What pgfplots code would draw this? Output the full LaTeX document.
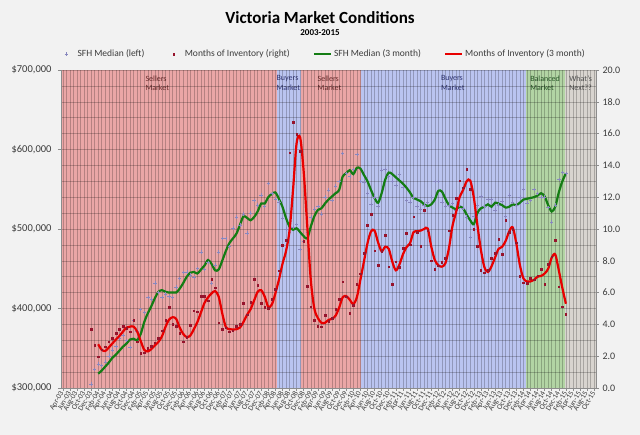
\documentclass[border=0pt]{standalone}
\usepackage{pgfplots}
\pgfplotsset{compat=1.18}
\usepackage{pgfplotstable}
\usepackage{fontspec}
\setmainfont{Carlito}
\definecolor{bg}{RGB}{242,242,242}
\definecolor{bandred}{RGB}{234,166,166}
\definecolor{bandblue}{RGB}{186,196,240}
\definecolor{bandgreen}{RGB}{178,212,164}
\definecolor{bandgray}{RGB}{216,212,207}
\definecolor{txtred}{RGB}{110,45,45}
\definecolor{txtblue}{RGB}{50,55,120}
\definecolor{txtgreen}{RGB}{40,90,40}
\definecolor{txtgray}{RGB}{85,85,85}
\definecolor{sfhline}{RGB}{20,125,20}
\definecolor{moiline}{RGB}{232,0,0}
\definecolor{sfhpt}{RGB}{135,135,190}
\definecolor{moipt}{RGB}{150,20,45}
\definecolor{lbl}{RGB}{60,60,60}
\pgfplotsset{markleg/.style={legend image code/.code={\path (0pt,-1pt) (15pt,1pt); \draw[##1] plot coordinates {(6pt,0pt)};}}}

\pgfplotstableread{
i sfh moi sfh3 moi3
8 305 3.69 nan nan
9 323 2.70 nan nan
10 330 1.97 318 2.75
11 328 2.40 322 2.40
12 333 2.60 327 2.33
13 340 2.91 332 2.55
14 348 3.12 338 2.80
15 352 3.44 342 3.05
16 362 3.69 347 3.28
17 366 3.90 352 3.55
18 360 3.75 356 3.80
19 351 3.54 361 3.86
20 385 4.28 362 3.86
21 372 2.90 360 3.55
22 399 2.18 368 2.95
23 395 2.22 383 2.40
24 414 2.50 394 2.30
25 412 2.64 403 2.45
26 432 2.85 413 2.68
27 420 3.12 421 2.90
28 414 3.60 423 3.25
29 418 4.28 421 3.85
30 415 5.08 420 4.30
31 414 4.00 420 4.45
32 427 3.90 420 4.35
33 438 3.45 425 3.80
34 445 2.91 432 3.40
35 446 3.20 440 3.20
36 442 3.96 445 3.30
37 439 4.86 446 3.70
38 450 4.80 444 4.15
39 471 5.79 449 4.75
40 449 5.79 454 5.35
41 458 5.49 461 5.70
42 432 6.84 456 5.95
43 455 6.30 448 6.10
44 471 4.11 449 5.75
45 488 3.69 460 4.70
46 488 3.80 472 3.85
47 478 3.54 482 3.70
48 501 3.60 488 3.68
49 515 3.90 494 3.69
50 505 4.00 505 3.80
51 519 5.33 516 4.15
52 495 4.60 514 4.60
53 520 5.40 511 4.95
54 536 6.84 515 5.50
55 530 6.48 522 6.05
56 543 5.33 532 6.15
57 528 5.08 532 5.75
58 557 5.01 540 5.10
59 545 5.58 544 5.25
60 538 6.21 546 5.95
61 534 7.38 538 6.80
62 513 8.99 528 7.80
63 500 9.31 514 8.60
64 496 14.80 503 9.90
65 502 16.70 499 12.50
66 506 15.97 501 15.40
67 474 14.90 496 15.75
68 484 9.25 491 13.60
69 496 6.42 488 10.20
70 515 5.11 503 6.80
71 525 4.28 516 5.00
72 528 3.90 524 4.40
73 519 3.86 526 4.10
74 540 4.59 532 4.10
75 549 4.20 537 4.28
76 536 4.38 541 4.35
77 554 4.95 545 4.55
78 560 5.58 549 5.05
79 595 6.69 566 5.70
80 570 5.74 570 5.78
81 566 4.70 574 5.55
82 575 5.22 569 5.28
83 594 6.54 577 5.70
84 560 7.20 576 6.80
85 559 8.47 568 7.95
86 545 10.25 560 9.10
87 531 10.94 549 9.85
88 540 8.64 539 9.90
89 529 7.74 533 9.15
90 574 8.60 545 8.60
91 575 9.62 562 8.88
92 566 7.63 571 8.75
93 560 6.54 569 7.95
94 555 7.94 565 7.40
95 569 7.60 561 7.75
96 552 8.80 557 8.40
97 536 9.73 552 8.85
98 534 9.00 546 9.10
99 540 10.77 539 9.80
100 528 9.80 537 9.85
101 525 8.93 535 9.90
102 530 11.19 531 10.00
103 534 9.90 529 10.03
104 540 8.00 531 8.90
105 560 7.46 537 8.05
106 560 7.70 548 7.72
107 534 7.90 547 7.63
108 528 8.16 538 7.85
109 530 9.89 530 8.80
110 532 10.88 527 10.20
111 524 11.93 525 11.05
112 530 13.04 528 12.00
113 526 12.60 526 12.45
114 515 13.75 518 13.00
115 489 12.50 511 13.05
116 516 10.00 506 12.00
117 530 8.93 520 10.30
118 541 7.42 526 8.70
119 528 7.25 528 7.60
120 537 7.40 531 7.30
121 537 8.16 528 7.65
122 524 8.47 533 8.20
123 530 9.35 532 8.75
124 535 8.43 530 8.88
125 516 10.57 527 9.25
126 543 9.80 528 9.85
127 534 10.00 531 10.10
128 530 9.14 530 9.10
129 540 7.04 533 7.75
130 550 6.62 537 6.90
131 533 6.58 538 6.70
132 536 6.90 539 6.70
133 550 6.80 540 6.80
134 545 7.06 542 7.00
135 540 7.46 545 7.05
136 540 6.54 541 7.20
137 527 7.80 530 7.50
138 509 8.26 522 8.20
139 530 9.31 528 8.40
140 562 6.37 546 7.40
141 571 5.11 560 6.30
142 570 4.65 570 5.30
}\datatable

\begin{document}
\begin{tikzpicture}
\useasboundingbox (0,0) rectangle (640pt,435pt);
\fill[bg] (0,0) rectangle (640pt,435pt);
\node[font=\fontsize{17}{20}\selectfont\bfseries] at (320pt,417pt) {Victoria Market Conditions};
\node[font=\fontsize{9}{11}\selectfont\bfseries] at (320pt,402pt) {2003-2015};

% background bands
\begin{axis}[at={(61pt,47pt)}, anchor=south west, width=535pt, height=318pt, scale only axis,
  xmin=-0.5, xmax=150.5, ymin=300, ymax=700, hide axis, clip=true]
\addplot[fill=bandred, draw=none] coordinates {(-0.5,300) (60.6,300) (60.6,700) (-0.5,700)} -- cycle;
\addplot[fill=bandblue, draw=none] coordinates {(60.6,300) (67.1,300) (67.1,700) (60.6,700)} -- cycle;
\addplot[fill=bandred, draw=none] coordinates {(67.1,300) (84.1,300) (84.1,700) (67.1,700)} -- cycle;
\addplot[fill=bandblue, draw=none] coordinates {(84.1,300) (130.7,300) (130.7,700) (84.1,700)} -- cycle;
\addplot[fill=bandgreen, draw=none] coordinates {(130.7,300) (141.75,300) (141.75,700) (130.7,700)} -- cycle;
\addplot[fill=bandgray, draw=none] coordinates {(141.75,300) (150.5,300) (150.5,700) (141.75,700)} -- cycle;
\begin{scope}[font=\fontsize{8}{9.5}\selectfont]
\node[anchor=north west, align=left, text=txtred, inner sep=0pt] at (axis cs:23.3,693) {Sellers\\Market};
\node[anchor=north west, align=left, text=txtblue, inner sep=0pt] at (axis cs:60.3,693) {Buyers\\Market};
\node[anchor=north west, align=left, text=txtred, inner sep=0pt] at (axis cs:71.9,693) {Sellers\\Market};
\node[anchor=north west, align=left, text=txtblue, inner sep=0pt] at (axis cs:106.7,693) {Buyers\\Market};
\node[anchor=north west, align=left, text=txtgreen, inner sep=0pt] at (axis cs:131.9,693) {Balanced\\Market};
\node[anchor=north west, align=left, text=txtgray, inner sep=0pt] at (axis cs:142.9,693) {What's\\Next??};
\end{scope}
\end{axis}

% left axis + SFH
\begin{axis}[at={(61pt,47pt)}, anchor=south west, width=535pt, height=318pt, scale only axis,
  xmin=-0.5, xmax=150.5, ymin=300, ymax=700,
  axis x line*=bottom, axis y line*=left,
  axis line style={draw=black!45, line width=0.5pt},
  tick style={draw=black!45, line width=0.5pt},
  tick align=outside, major tick length=3pt, minor tick length=0pt,
  ytick={300,400,500,600,700},
  yticklabels={{\$300,000},{\$400,000},{\$500,000},{\$600,000},{\$700,000}},
  minor y tick num=4,
  xtick={0,2,...,150},
  minor x tick num=1,
  xticklabels={Apr-03,Jun-03,Aug-03,Oct-03,Dec-03,Feb-04,Apr-04,Jun-04,Aug-04,Oct-04,Dec-04,Feb-05,Apr-05,Jun-05,Aug-05,Oct-05,Dec-05,Feb-06,Apr-06,Jun-06,Aug-06,Oct-06,Dec-06,Feb-07,Apr-07,Jun-07,Aug-07,Oct-07,Dec-07,Feb-08,Apr-08,Jun-08,Aug-08,Oct-08,Dec-08,Feb-09,Apr-09,Jun-09,Aug-09,Oct-09,Dec-09,Feb-10,Apr-10,Jun-10,Aug-10,Oct-10,Dec-10,Feb-11,Apr-11,Jun-11,Aug-11,Oct-11,Dec-11,Feb-12,Apr-12,Jun-12,Aug-12,Oct-12,Dec-12,Feb-13,Apr-13,Jun-13,Aug-13,Oct-13,Dec-13,Feb-14,Apr-14,Jun-14,Aug-14,Oct-14,Dec-14,Feb-15,Apr-15,Jun-15,Aug-15,Oct-15},
  xticklabel style={rotate=60, anchor=east, font=\fontsize{7.5}{8}\selectfont, text=lbl, inner sep=1pt},
  yticklabel style={font=\fontsize{10.5}{12}\selectfont, text=lbl, xshift=-3pt},
  grid=both,
  major grid style={draw=black, opacity=0.22, line width=0.5pt},
  minor grid style={draw=black, opacity=0.22, line width=0.5pt},
  clip=false]
\addplot[only marks, mark=+, mark size=1.7pt, color=sfhpt, mark options={line width=0.5pt}] table[x=i, y=sfh] {\datatable};
\addplot[sfhline, line width=2.2pt, smooth, unbounded coords=discard] table[x=i, y=sfh3] {\datatable};
\end{axis}

% right axis + MOI
\begin{axis}[at={(61pt,47pt)}, anchor=south west, width=535pt, height=318pt, scale only axis,
  xmin=-0.5, xmax=150.5, ymin=0, ymax=20,
  axis x line=none, axis y line*=right,
  axis line style={draw=black!45, line width=0.5pt},
  tick style={draw=black!45, line width=0.5pt},
  tick align=outside, major tick length=3pt,
  ytick={0,2,...,20},
  yticklabels={0.0,2.0,4.0,6.0,8.0,10.0,12.0,14.0,16.0,18.0,20.0},
  yticklabel style={font=\fontsize{10}{12}\selectfont, text=lbl},
  legend columns=4,
  legend cell align=left,
  legend style={at={(-0.002,1.050)}, anchor=west, draw=none, fill=none, inner xsep=0pt,
    font=\fontsize{9.5}{11}\selectfont, text=lbl,
    /tikz/every even column/.append style={column sep=21pt}},
  clip=false]
\addlegendimage{only marks, mark=+, mark size=1.7pt, color=sfhpt, markleg}
\addlegendimage{only marks, mark=square*, mark size=0.8pt, color=moipt, markleg}
\addlegendimage{sfhline, line width=2.2pt}
\addlegendimage{moiline, line width=2.2pt}
\legend{SFH Median (left),Months of Inventory (right),SFH Median (3 month),Months of Inventory (3 month)}
\addplot[only marks, mark=square*, mark size=0.8pt, color=moipt] table[x=i, y=moi] {\datatable};
\addplot[moiline, line width=2.2pt, smooth, unbounded coords=discard] table[x=i, y=moi3] {\datatable};
\end{axis}
\end{tikzpicture}
\end{document}
